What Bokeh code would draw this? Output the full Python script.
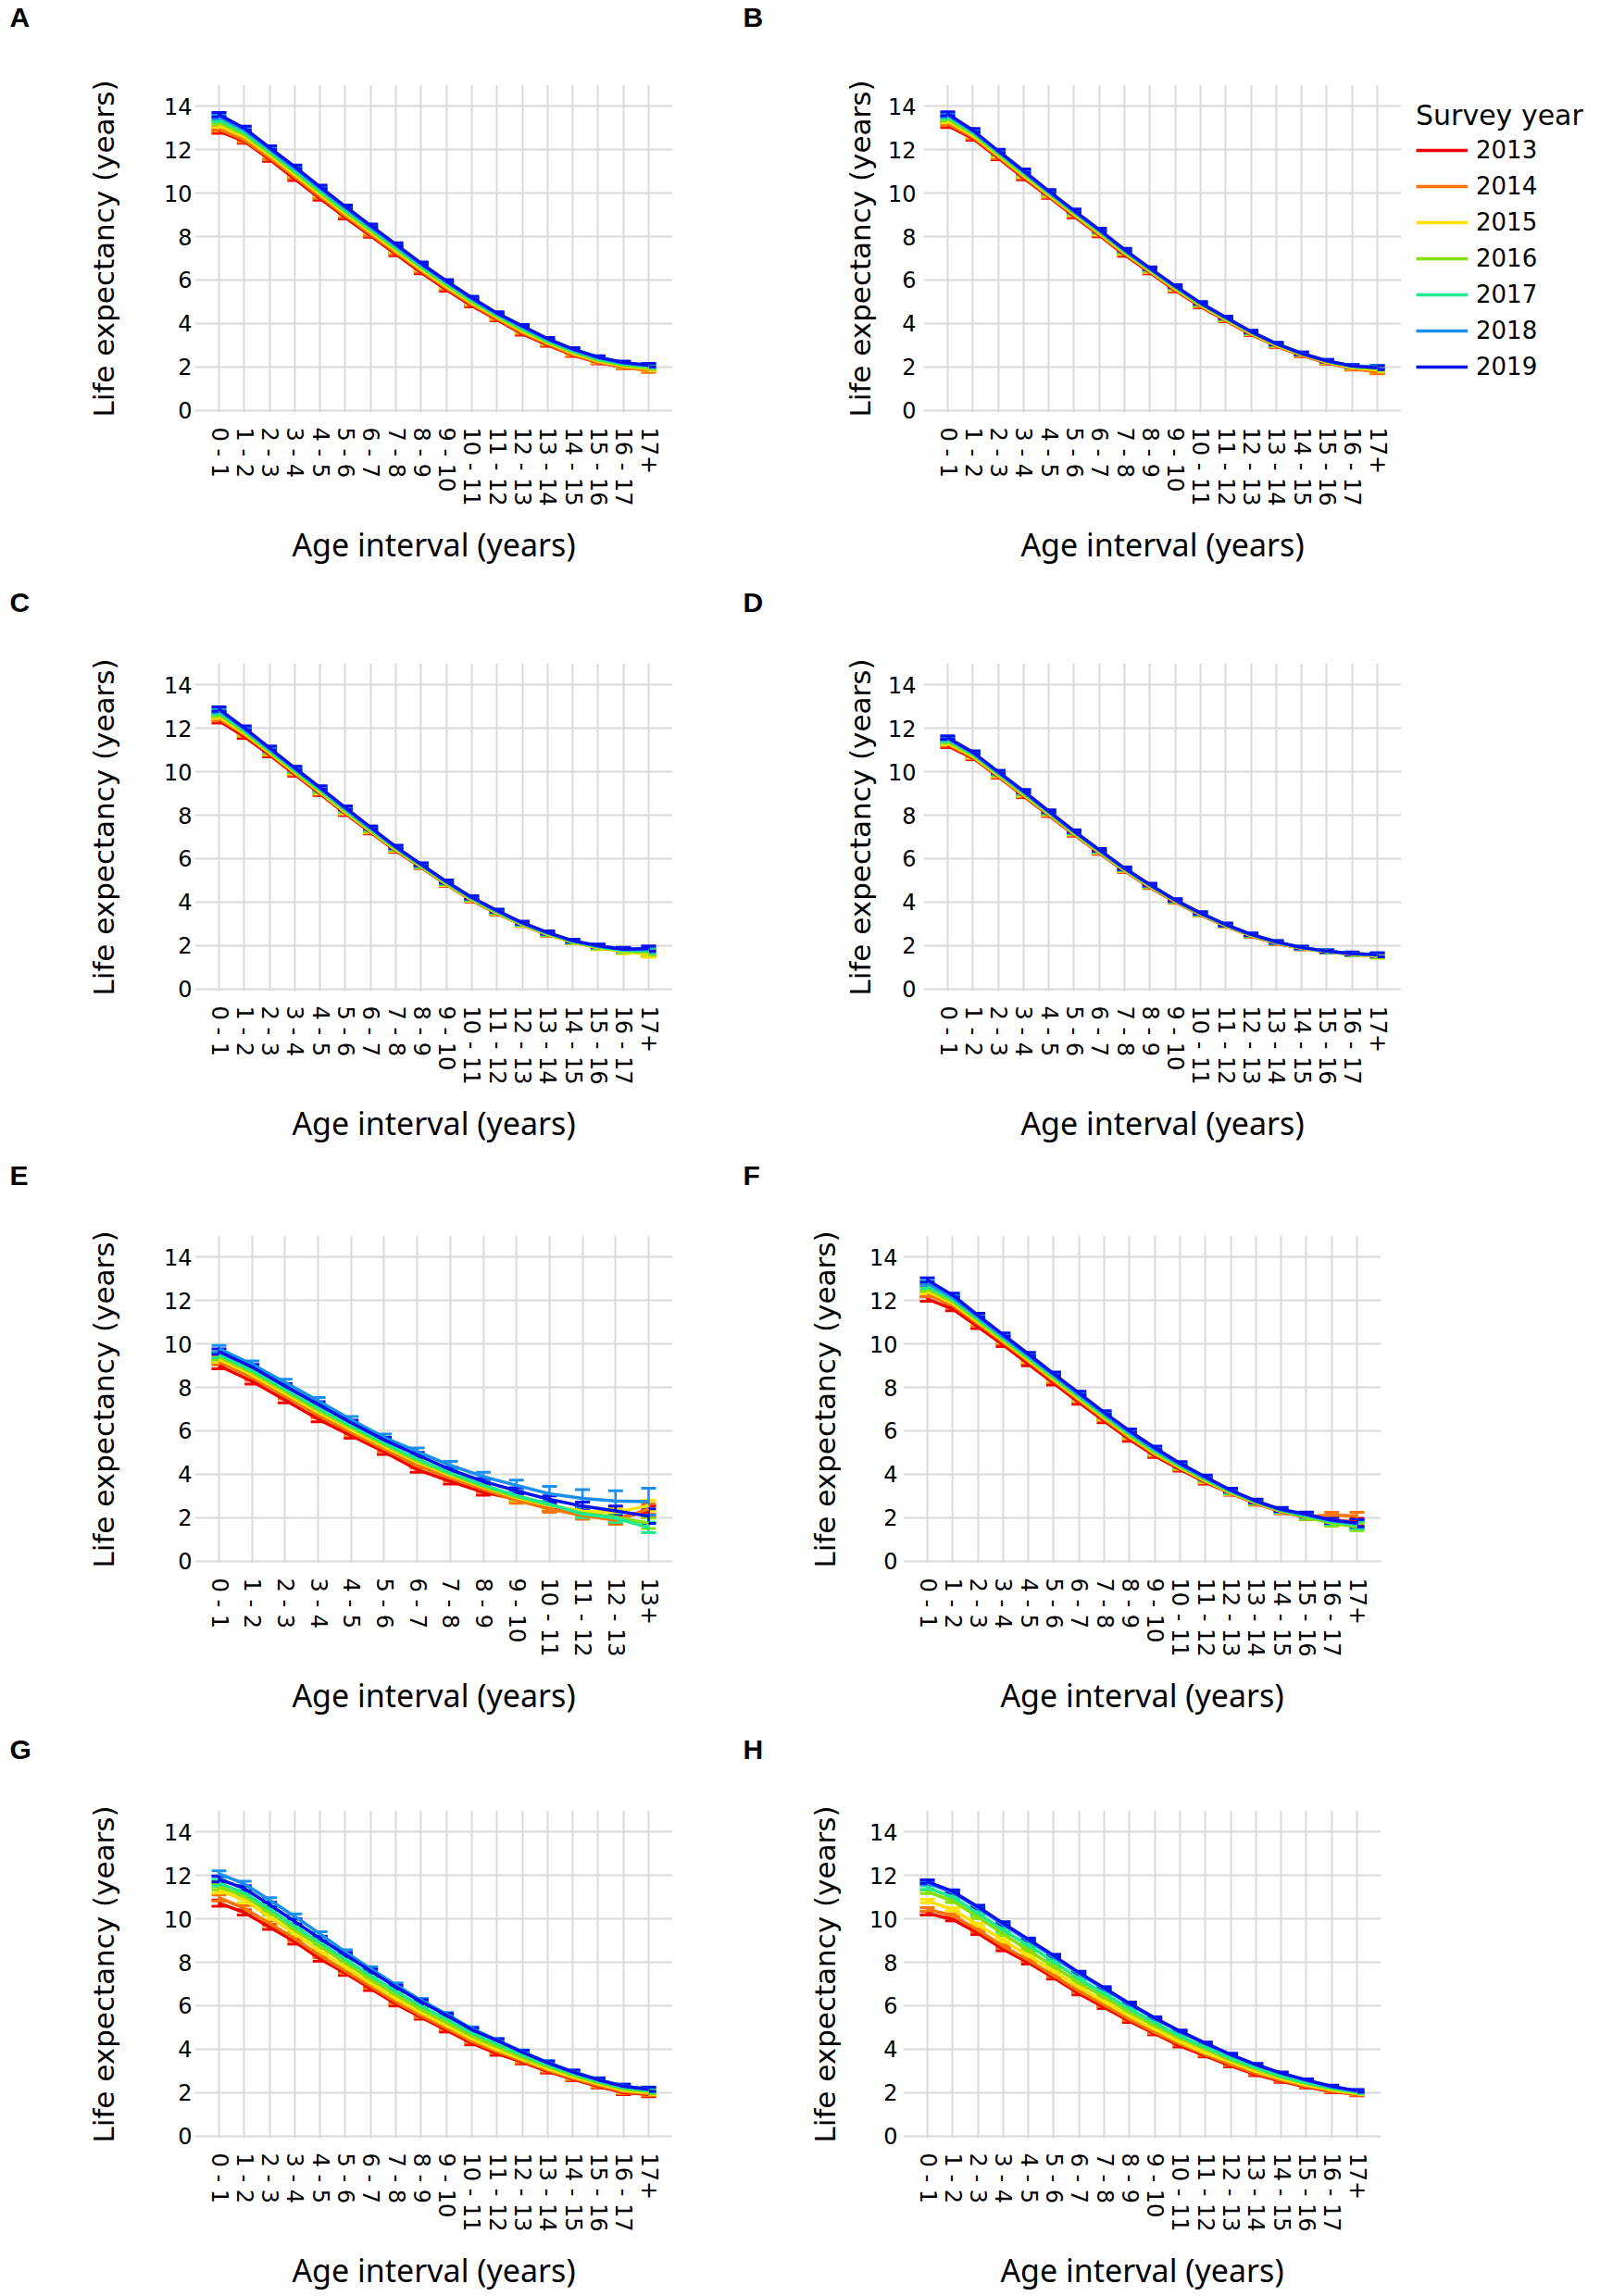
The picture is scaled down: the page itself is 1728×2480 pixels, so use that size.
import math
from bokeh.plotting import figure
from bokeh.models import (Range1d, FixedTicker, Whisker, TeeHead, ColumnDataSource,
                          Legend, LegendItem, Title)
from bokeh.layouts import column, row
from bokeh.embed import file_html
from bokeh.resources import INLINE

# ---------------- data ----------------
YEARS = ["2013", "2014", "2015", "2016", "2017", "2018", "2019"]
COLORS = ["#f20000", "#ff7300", "#ffe100", "#84e000", "#1fe88e", "#1a8ff0", "#0512ee"]

AGES_18 = ["0 - 1", "1 - 2", "2 - 3", "3 - 4", "4 - 5", "5 - 6", "6 - 7", "7 - 8", "8 - 9",
           "9 - 10", "10 - 11", "11 - 12", "12 - 13", "13 - 14", "14 - 15", "15 - 16",
           "16 - 17", "17+"]
AGES_14 = ["0 - 1", "1 - 2", "2 - 3", "3 - 4", "4 - 5", "5 - 6", "6 - 7", "7 - 8", "8 - 9",
           "9 - 10", "10 - 11", "11 - 12", "12 - 13", "13+"]
Y_TICKS = [0, 2, 4, 6, 8, 10, 12, 14]

LE_A = {
    "2013": [12.86, 12.39, 11.56, 10.66, 9.76, 8.88, 8.04, 7.19, 6.35, 5.55, 4.82, 4.18, 3.52, 3.01, 2.54, 2.20, 1.98, 1.88],
    "2014": [12.95, 12.45, 11.64, 10.75, 9.84, 8.96, 8.11, 7.26, 6.42, 5.62, 4.88, 4.22, 3.57, 3.05, 2.57, 2.22, 1.98, 1.83],
    "2015": [13.12, 12.60, 11.76, 10.86, 9.95, 9.06, 8.21, 7.35, 6.50, 5.70, 4.95, 4.29, 3.64, 3.11, 2.63, 2.27, 2.04, 1.90],
    "2016": [13.25, 12.70, 11.85, 10.95, 10.04, 9.14, 8.29, 7.43, 6.57, 5.77, 5.01, 4.34, 3.70, 3.16, 2.68, 2.31, 2.08, 1.95],
    "2017": [13.38, 12.80, 11.93, 11.03, 10.12, 9.22, 8.36, 7.50, 6.64, 5.84, 5.08, 4.39, 3.77, 3.20, 2.73, 2.36, 2.13, 2.03],
    "2018": [13.52, 12.92, 12.03, 11.14, 10.22, 9.32, 8.45, 7.58, 6.71, 5.91, 5.14, 4.44, 3.84, 3.26, 2.79, 2.41, 2.17, 2.06],
    "2019": [13.62, 13.00, 12.10, 11.22, 10.29, 9.39, 8.51, 7.65, 6.77, 5.96, 5.19, 4.48, 3.89, 3.30, 2.83, 2.45, 2.20, 2.08],
}
LE_B = {
    "2013": [13.12, 12.52, 11.62, 10.70, 9.83, 8.94, 8.06, 7.16, 6.35, 5.52, 4.78, 4.14, 3.50, 2.96, 2.53, 2.19, 1.93, 1.80],
    "2014": [13.20, 12.58, 11.68, 10.76, 9.88, 8.99, 8.11, 7.21, 6.39, 5.56, 4.81, 4.16, 3.52, 2.98, 2.54, 2.20, 1.92, 1.77],
    "2015": [13.33, 12.66, 11.75, 10.83, 9.93, 9.04, 8.16, 7.25, 6.42, 5.60, 4.85, 4.19, 3.55, 3.00, 2.57, 2.22, 1.97, 1.86],
    "2016": [13.42, 12.73, 11.81, 10.89, 9.98, 9.09, 8.21, 7.29, 6.46, 5.64, 4.88, 4.22, 3.58, 3.03, 2.59, 2.25, 2.00, 1.92],
    "2017": [13.52, 12.80, 11.87, 10.95, 10.03, 9.13, 8.26, 7.34, 6.50, 5.68, 4.91, 4.25, 3.60, 3.05, 2.61, 2.27, 2.03, 1.99],
    "2018": [13.60, 12.86, 11.92, 11.00, 10.07, 9.17, 8.30, 7.37, 6.53, 5.71, 4.93, 4.27, 3.62, 3.06, 2.62, 2.28, 2.04, 1.98],
    "2019": [13.66, 12.90, 11.95, 11.04, 10.10, 9.20, 8.32, 7.40, 6.55, 5.73, 4.95, 4.28, 3.63, 3.07, 2.62, 2.28, 2.04, 1.96],
}
LE_C = {
    "2013": [12.35, 11.63, 10.78, 9.88, 8.99, 8.07, 7.21, 6.36, 5.60, 4.80, 4.08, 3.48, 2.95, 2.51, 2.16, 1.90, 1.74, 1.66],
    "2014": [12.45, 11.72, 10.85, 9.94, 9.04, 8.12, 7.25, 6.39, 5.62, 4.82, 4.10, 3.50, 2.96, 2.52, 2.16, 1.91, 1.74, 1.64],
    "2015": [12.55, 11.78, 10.89, 9.98, 9.07, 8.15, 7.27, 6.41, 5.63, 4.83, 4.11, 3.50, 2.96, 2.52, 2.15, 1.89, 1.71, 1.58],
    "2016": [12.64, 11.84, 10.94, 10.03, 9.12, 8.20, 7.31, 6.45, 5.66, 4.86, 4.14, 3.53, 2.99, 2.54, 2.17, 1.92, 1.75, 1.68],
    "2017": [12.74, 11.91, 11.00, 10.08, 9.18, 8.25, 7.36, 6.49, 5.69, 4.90, 4.17, 3.56, 3.01, 2.56, 2.19, 1.95, 1.78, 1.75],
    "2018": [12.83, 11.98, 11.06, 10.14, 9.24, 8.31, 7.41, 6.52, 5.72, 4.93, 4.20, 3.59, 3.03, 2.58, 2.21, 1.97, 1.81, 1.81],
    "2019": [12.89, 12.03, 11.10, 10.18, 9.28, 8.35, 7.44, 6.55, 5.74, 4.95, 4.22, 3.61, 3.05, 2.60, 2.22, 1.99, 1.83, 1.86],
}
LE_D = {
    "2013": [11.20, 10.63, 9.78, 8.88, 8.00, 7.10, 6.26, 5.43, 4.69, 4.01, 3.41, 2.90, 2.44, 2.11, 1.87, 1.72, 1.60, 1.53],
    "2014": [11.26, 10.67, 9.81, 8.92, 8.03, 7.13, 6.28, 5.45, 4.71, 4.02, 3.42, 2.91, 2.45, 2.12, 1.87, 1.72, 1.59, 1.52],
    "2015": [11.33, 10.72, 9.85, 8.96, 8.06, 7.16, 6.31, 5.47, 4.73, 4.04, 3.44, 2.92, 2.47, 2.13, 1.88, 1.72, 1.60, 1.50],
    "2016": [11.40, 10.77, 9.89, 9.00, 8.09, 7.19, 6.34, 5.50, 4.75, 4.06, 3.46, 2.94, 2.48, 2.14, 1.89, 1.73, 1.61, 1.54],
    "2017": [11.47, 10.82, 9.93, 9.05, 8.13, 7.22, 6.37, 5.52, 4.77, 4.08, 3.47, 2.95, 2.50, 2.15, 1.90, 1.73, 1.62, 1.56],
    "2018": [11.54, 10.87, 9.97, 9.09, 8.16, 7.25, 6.39, 5.54, 4.79, 4.09, 3.49, 2.96, 2.51, 2.16, 1.90, 1.74, 1.62, 1.58],
    "2019": [11.58, 10.90, 10.00, 9.12, 8.19, 7.27, 6.41, 5.56, 4.81, 4.10, 3.50, 2.97, 2.52, 2.17, 1.91, 1.74, 1.63, 1.57],
}
LE_E = {
    "2013": [9.00, 8.28, 7.42, 6.54, 5.78, 5.03, 4.21, 3.67, 3.17, 2.85, 2.45, 2.15, 1.95, 2.30],
    "2014": [9.18, 8.45, 7.60, 6.72, 5.92, 5.15, 4.40, 3.82, 3.30, 2.80, 2.40, 2.10, 1.88, 2.40],
    "2015": [9.30, 8.58, 7.72, 6.85, 6.05, 5.28, 4.55, 3.95, 3.40, 2.92, 2.55, 2.30, 2.25, 2.55],
    "2016": [9.40, 8.68, 7.82, 6.95, 6.15, 5.36, 4.62, 4.00, 3.44, 2.96, 2.60, 2.20, 2.03, 1.74],
    "2017": [9.50, 8.78, 7.92, 7.05, 6.23, 5.44, 4.70, 4.06, 3.50, 3.02, 2.62, 2.17, 1.98, 1.55],
    "2018": [9.78, 9.07, 8.23, 7.39, 6.51, 5.70, 5.05, 4.41, 3.89, 3.49, 3.10, 2.89, 2.77, 2.74],
    "2019": [9.65, 8.94, 8.06, 7.22, 6.37, 5.58, 4.89, 4.21, 3.67, 3.24, 2.84, 2.53, 2.31, 2.07],
}
LE_F = {
    "2013": [12.07, 11.62, 10.80, 9.96, 9.08, 8.19, 7.31, 6.45, 5.60, 4.85, 4.22, 3.63, 3.12, 2.66, 2.27, 2.02, 1.88, 1.80],
    "2014": [12.28, 11.78, 10.93, 10.08, 9.19, 8.30, 7.41, 6.54, 5.69, 4.92, 4.28, 3.68, 3.14, 2.68, 2.29, 2.05, 2.12, 2.08],
    "2015": [12.42, 11.88, 11.02, 10.15, 9.26, 8.37, 7.48, 6.60, 5.75, 4.97, 4.31, 3.70, 3.15, 2.69, 2.30, 2.04, 1.78, 1.62],
    "2016": [12.53, 11.96, 11.09, 10.21, 9.32, 8.43, 7.54, 6.66, 5.80, 5.02, 4.35, 3.74, 3.18, 2.71, 2.31, 2.02, 1.74, 1.57],
    "2017": [12.65, 12.05, 11.16, 10.27, 9.38, 8.49, 7.60, 6.72, 5.86, 5.08, 4.40, 3.79, 3.21, 2.73, 2.34, 2.08, 1.82, 1.66],
    "2018": [12.80, 12.15, 11.25, 10.35, 9.46, 8.56, 7.67, 6.79, 5.93, 5.15, 4.45, 3.83, 3.24, 2.75, 2.36, 2.12, 1.86, 1.72],
    "2019": [12.95, 12.25, 11.33, 10.43, 9.54, 8.63, 7.74, 6.85, 6.00, 5.22, 4.50, 3.88, 3.27, 2.77, 2.38, 2.16, 1.88, 1.75],
}
LE_G = {
    "2013": [10.73, 10.30, 9.63, 8.95, 8.15, 7.50, 6.79, 6.08, 5.47, 4.87, 4.28, 3.80, 3.40, 2.98, 2.62, 2.29, 2.00, 1.91],
    "2014": [10.97, 10.49, 9.80, 9.09, 8.31, 7.60, 6.89, 6.18, 5.54, 4.97, 4.36, 3.88, 3.46, 3.03, 2.66, 2.33, 2.04, 1.95],
    "2015": [11.33, 10.87, 10.09, 9.31, 8.52, 7.78, 7.03, 6.32, 5.68, 5.08, 4.48, 3.98, 3.53, 3.10, 2.72, 2.40, 2.10, 2.00],
    "2016": [11.48, 11.06, 10.30, 9.49, 8.74, 7.98, 7.21, 6.50, 5.82, 5.22, 4.61, 4.11, 3.62, 3.19, 2.80, 2.46, 2.16, 2.04],
    "2017": [11.65, 11.20, 10.46, 9.66, 8.90, 8.14, 7.38, 6.66, 5.98, 5.38, 4.75, 4.24, 3.73, 3.28, 2.87, 2.52, 2.22, 2.10],
    "2018": [12.08, 11.62, 10.87, 10.12, 9.31, 8.48, 7.71, 6.96, 6.25, 5.61, 4.95, 4.42, 3.88, 3.39, 2.96, 2.60, 2.30, 2.16],
    "2019": [11.84, 11.41, 10.66, 9.88, 9.09, 8.35, 7.60, 6.86, 6.18, 5.56, 4.90, 4.40, 3.86, 3.37, 2.95, 2.59, 2.29, 2.15],
}
LE_H = {
    "2013": [10.26, 9.98, 9.35, 8.60, 7.98, 7.29, 6.56, 5.93, 5.29, 4.71, 4.15, 3.69, 3.23, 2.83, 2.52, 2.26, 2.05, 1.91],
    "2014": [10.44, 10.16, 9.49, 8.74, 8.10, 7.39, 6.67, 6.03, 5.37, 4.78, 4.23, 3.76, 3.29, 2.88, 2.56, 2.29, 2.08, 1.93],
    "2015": [10.83, 10.44, 9.73, 9.02, 8.31, 7.60, 6.85, 6.18, 5.52, 4.90, 4.33, 3.83, 3.41, 2.98, 2.64, 2.35, 2.12, 1.96],
    "2016": [11.25, 10.83, 10.09, 9.31, 8.55, 7.81, 7.06, 6.39, 5.69, 5.07, 4.50, 4.00, 3.50, 3.07, 2.70, 2.41, 2.17, 2.00],
    "2017": [11.44, 11.01, 10.26, 9.49, 8.78, 8.03, 7.24, 6.56, 5.86, 5.21, 4.61, 4.09, 3.58, 3.15, 2.76, 2.46, 2.21, 2.03],
    "2018": [11.66, 11.22, 10.50, 9.74, 9.00, 8.25, 7.47, 6.77, 6.06, 5.40, 4.80, 4.25, 3.73, 3.27, 2.88, 2.56, 2.27, 2.07],
    "2019": [11.72, 11.27, 10.56, 9.80, 9.06, 8.31, 7.53, 6.82, 6.11, 5.44, 4.83, 4.28, 3.76, 3.29, 2.90, 2.58, 2.29, 2.08],
}

# half-widths of the error bars
ERR_A = [0.10, 0.09, 0.09, 0.08, 0.08, 0.07, 0.07, 0.07, 0.06, 0.06, 0.06, 0.06, 0.06, 0.06, 0.06, 0.06, 0.07, 0.08]
ERR_B = [0.09, 0.08, 0.08, 0.08, 0.07, 0.07, 0.07, 0.06, 0.06, 0.06, 0.06, 0.06, 0.06, 0.06, 0.06, 0.06, 0.07, 0.09]
ERR_C = [0.10, 0.09, 0.09, 0.08, 0.08, 0.08, 0.07, 0.07, 0.07, 0.07, 0.07, 0.07, 0.07, 0.07, 0.07, 0.08, 0.09, 0.12]
ERR_D = [0.08, 0.07, 0.07, 0.07, 0.06, 0.06, 0.06, 0.06, 0.06, 0.06, 0.06, 0.06, 0.06, 0.06, 0.06, 0.06, 0.07, 0.09]
ERR_E = [0.14, 0.13, 0.13, 0.12, 0.12, 0.12, 0.12, 0.12, 0.13, 0.14, 0.15, 0.17, 0.19, 0.24]
ERR_E_2018 = [0.16, 0.15, 0.15, 0.15, 0.15, 0.15, 0.16, 0.18, 0.20, 0.24, 0.34, 0.40, 0.47, 0.62]
ERR_E_2019 = [0.13, 0.12, 0.12, 0.12, 0.12, 0.12, 0.12, 0.12, 0.13, 0.14, 0.16, 0.19, 0.22, 0.34]
ERR_F = [0.10, 0.09, 0.09, 0.08, 0.08, 0.08, 0.08, 0.08, 0.08, 0.08, 0.08, 0.08, 0.08, 0.08, 0.09, 0.10, 0.13, 0.17]
ERR_G = [0.14, 0.12, 0.11, 0.11, 0.10, 0.10, 0.09, 0.09, 0.09, 0.08, 0.08, 0.08, 0.08, 0.08, 0.08, 0.08, 0.09, 0.10]
ERR_H = [0.08, 0.07, 0.07, 0.07, 0.06, 0.06, 0.06, 0.06, 0.06, 0.05, 0.05, 0.05, 0.05, 0.05, 0.05, 0.05, 0.05, 0.06]

# ---------------- layout ----------------
FRAME_W, FRAME_H = 516, 354
Y_START, Y_END = -0.1, 15.0
EDGE_PAD = 26
COL_X0 = [0, 800]
COL_W = [800, 928]
ROW_Y0 = [0, 617, 1242, 1860]
ROW_H = [617, 625, 618, 620]
ROW_TOP = [91, 99, 92, 95]
LETTER_LEFT = [10, 802]
LETTER_TOP = [0, 632, 1251, 1871]
LETTER_SPACE = 40

GRID = "#d9d9d9"
TXT = "#000000"


def build_panel(letter, cats, series, errs, col, rw, left, tick_standoff, ylab_standoff,
                legend=False):
    n = len(cats)
    step = (FRAME_W - 2 * EDGE_PAD) / (n - 1)
    pad = EDGE_PAD / step
    right = COL_W[col] - left - FRAME_W
    top = ROW_TOP[rw]
    bottom = ROW_H[rw] - top - FRAME_H
    p = figure(frame_width=FRAME_W, frame_height=FRAME_H,
               x_range=Range1d(-pad, n - 1 + pad), y_range=Range1d(Y_START, Y_END),
               min_border_left=left, min_border_right=right,
               min_border_top=top, min_border_bottom=bottom,
               output_backend="svg", toolbar_location=None)
    p.outline_line_color = None
    p.background_fill_color = "white"
    p.border_fill_color = "white"

    # panel letter: a spacer title next to the frame, then the letter title above it
    frame_left_abs = COL_X0[col] + left
    frame_top_abs = ROW_Y0[rw] + top
    dist = frame_top_abs - LETTER_TOP[rw]
    spacer = Title(text=" ", align="left", standoff=max(dist - LETTER_SPACE, 0),
                   text_font_size="2px", text_color="white")
    letter_t = Title(text=letter, align="left", vertical_align="top", standoff=0,
                     offset=LETTER_LEFT[col] - frame_left_abs,
                     text_font="Liberation Sans", text_font_size="30px",
                     text_font_style="bold", text_color=TXT)
    p.add_layout(spacer, "above")
    p.add_layout(letter_t, "above")

    # axes
    p.xaxis.ticker = FixedTicker(ticks=list(range(n)))
    p.xaxis.major_label_overrides = {i: c for i, c in enumerate(cats)}
    p.xaxis.major_label_orientation = -math.pi / 2
    p.yaxis.ticker = FixedTicker(ticks=Y_TICKS)
    for ax in (p.xaxis, p.yaxis):
        ax.axis_line_color = None
        ax.major_tick_line_color = None
        ax.minor_tick_line_color = None
        ax.major_tick_out = 0
        ax.major_tick_in = 0
        ax.major_label_text_font = "DejaVu Sans"
        ax.major_label_text_font_size = "24px"
        ax.major_label_text_color = TXT
        ax.axis_label_text_font_style = "normal"
        ax.axis_label_text_color = TXT
    p.xaxis.major_label_standoff = 16
    p.yaxis.major_label_standoff = tick_standoff
    p.xaxis.axis_label = "Age interval (years)"
    p.xaxis.axis_label_text_font = "Noto Sans"
    p.xaxis.axis_label_text_font_size = "34px"
    p.xaxis.axis_label_standoff = 16
    p.yaxis.axis_label = "Life expectancy (years)"
    p.yaxis.axis_label_text_font = "DejaVu Sans"
    p.yaxis.axis_label_text_font_size = "31px"
    p.yaxis.axis_label_standoff = ylab_standoff

    p.xgrid.grid_line_color = GRID
    p.ygrid.grid_line_color = GRID
    p.xgrid.grid_line_width = 2
    p.ygrid.grid_line_width = 2

    xs = list(range(n))
    items = []
    for yr, colr in zip(YEARS, COLORS):
        vals = series[yr]
        e = errs.get(yr, errs["all"])
        src = ColumnDataSource(dict(x=xs, y=vals,
                                    lo=[v - d for v, d in zip(vals, e)],
                                    hi=[v + d for v, d in zip(vals, e)]))
        w = Whisker(base="x", upper="hi", lower="lo", source=src,
                    line_color=colr, line_width=2.5,
                    upper_head=TeeHead(size=16, line_color=colr, line_width=3),
                    lower_head=TeeHead(size=16, line_color=colr, line_width=3))
        p.add_layout(w)
        r = p.line("x", "y", source=src, line_color=colr, line_width=3.5)
        items.append(LegendItem(label=yr, renderers=[r]))

    if legend:
        lg = Legend(items=items, location="top_left", title="Survey year",
                    margin=0, padding=16, spacing=5, glyph_width=56, glyph_height=34,
                    label_standoff=9, label_text_font="DejaVu Sans",
                    label_text_font_size="26px", label_text_color=TXT,
                    title_text_font="DejaVu Sans", title_text_font_size="30px",
                    title_text_font_style="normal", title_text_color=TXT,
                    title_standoff=3, border_line_color="white", border_line_alpha=0.0,
                    background_fill_alpha=0)
        p.add_layout(lg, "right")
    return p


pA = build_panel("A", AGES_18, LE_A, {"all": ERR_A}, 0, 0, 210, 3, 44)
pB = build_panel("B", AGES_18, LE_B, {"all": ERR_B}, 1, 0, 197, 8, 9, legend=True)
pC = build_panel("C", AGES_18, LE_C, {"all": ERR_C}, 0, 1, 210, 3, 44)
pD = build_panel("D", AGES_18, LE_D, {"all": ERR_D}, 1, 1, 197, 8, 9)
pE = build_panel("E", AGES_14, LE_E, {"all": ERR_E, "2018": ERR_E_2018, "2019": ERR_E_2019},
                 0, 2, 210, 3, 44)
pF = build_panel("F", AGES_18, LE_F, {"all": ERR_F}, 1, 2, 175, 6, 27)
pG = build_panel("G", AGES_18, LE_G, {"all": ERR_G}, 0, 3, 210, 3, 44)
pH = build_panel("H", AGES_18, LE_H, {"all": ERR_H}, 1, 3, 175, 6, 27)

layout = column(row(pA, pB), row(pC, pD), row(pE, pF), row(pG, pH))
open("out.html", "w").write(file_html(layout, INLINE))
